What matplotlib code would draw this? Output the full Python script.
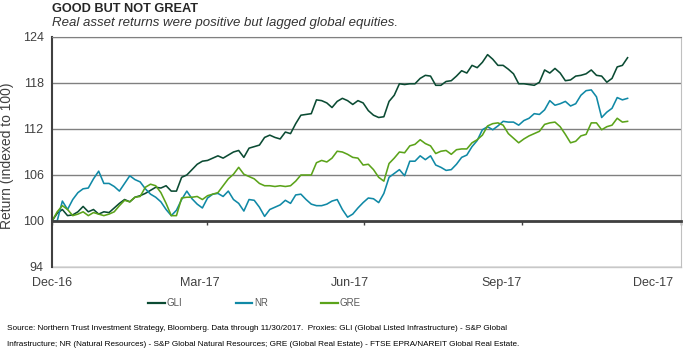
"""
Real asset returns vs global equities, indexed to 100 (Dec-16 to Nov-17).
"""

import matplotlib
matplotlib.use('Agg')
import matplotlib.pyplot as plt
import matplotlib.dates as mdates
from matplotlib import font_manager
from matplotlib.lines import Line2D
import pandas as pd


# ---- data (one point every ~3 days) ----
dates = pd.date_range('2016-12-31', '2017-11-30', periods=112)

gli = [
    100.0, 101.0, 101.5, 100.7, 100.8, 101.2, 101.9, 101.2, 101.5, 100.9,
    101.2, 101.1, 101.7, 102.3, 102.8, 102.5, 103.1, 103.3, 103.6, 104.0,
    104.4, 104.3, 104.6, 103.9, 103.9, 105.7, 106.0, 106.7, 107.4, 107.8,
    107.9, 108.2, 108.5, 108.2, 108.6, 109.0, 109.2, 108.3, 109.5, 109.7,
    109.9, 110.9, 111.2, 110.9, 110.7, 111.6, 111.4, 112.7, 113.8, 113.9,
    114.0, 115.8, 115.7, 115.4, 114.8, 115.6, 116.0, 115.7, 115.2, 115.7,
    115.4, 114.4, 113.8, 113.5, 113.6, 115.6, 116.4, 117.9, 117.8, 117.9,
    117.9, 118.6, 119.0, 118.9, 117.7, 117.7, 118.2, 118.3, 118.9, 119.6,
    119.3, 120.3, 120.0, 120.7, 121.7, 121.1, 120.3, 120.3, 119.8, 119.2,
    117.9, 117.9, 117.8, 117.7, 118.1, 119.7, 119.3, 119.9, 119.3, 118.3,
    118.4, 118.9, 119.0, 119.2, 119.7, 119.0, 118.9, 118.1, 118.6, 120.1,
    120.3, 121.3,
]

nr = [
    100.0, 100.0, 102.6, 101.5, 102.8, 103.7, 104.2, 104.3, 105.5, 106.5,
    104.9, 104.9, 104.5, 103.9, 104.9, 105.9, 105.4, 105.1, 104.2, 103.5,
    103.1, 102.5, 101.5, 100.7, 101.4, 102.8, 103.9, 102.9, 102.2, 101.7,
    103.0, 103.5, 103.6, 103.2, 103.9, 102.8, 102.3, 101.3, 102.8, 102.7,
    101.8, 100.6, 101.5, 101.8, 102.1, 102.7, 102.3, 103.4, 103.5, 102.8,
    102.2, 102.0, 102.0, 102.2, 102.6, 102.8, 101.5, 100.5, 100.9, 101.7,
    102.4, 103.0, 102.9, 102.4, 103.6, 105.7, 106.2, 106.7, 105.9, 107.8,
    107.8, 108.5, 108.0, 108.5, 107.3, 107.0, 106.6, 106.7, 107.4, 108.3,
    108.6, 109.7, 110.5, 111.9, 112.3, 111.9, 112.4, 113.0, 112.9, 112.9,
    112.5, 113.1, 113.4, 114.0, 113.9, 114.5, 115.7, 115.1, 115.3, 115.6,
    115.0, 115.3, 116.4, 117.0, 117.1, 116.2, 113.5, 114.2, 114.7, 116.1,
    115.8, 116.0,
]

gre = [
    100.0, 101.2, 102.0, 101.5, 100.7, 100.9, 101.2, 100.7, 101.1, 100.9,
    100.7, 100.9, 101.2, 102.0, 102.7, 102.5, 103.1, 103.2, 104.4, 104.8,
    104.6, 103.7, 102.3, 100.7, 100.7, 103.0, 103.1, 103.1, 103.2, 102.8,
    103.3, 103.5, 103.7, 104.6, 105.5, 106.1, 107.0, 106.1, 105.8, 105.5,
    104.9, 104.6, 104.6, 104.5, 104.6, 104.5, 104.6, 105.2, 106.0, 106.0,
    106.0, 107.6, 107.9, 107.7, 108.2, 109.1, 109.0, 108.7, 108.3, 108.2,
    107.3, 107.4, 106.7, 105.7, 105.2, 107.5, 108.2, 109.0, 108.9, 109.8,
    110.0, 110.6, 110.1, 109.8, 108.8, 109.1, 109.2, 108.7, 109.3, 109.4,
    109.4, 110.2, 110.6, 111.2, 112.4, 112.7, 112.8, 112.5, 111.4, 110.8,
    110.2, 110.7, 111.1, 111.4, 111.7, 112.6, 112.8, 112.9, 112.3, 111.3,
    110.2, 110.4, 111.1, 111.3, 112.8, 112.8, 111.9, 112.3, 112.5, 113.4,
    112.9, 113.0,
]

series_names = ['GLI', 'NR', 'GRE']
series_colors = ['#0b4b33', '#1089a6', '#5ba31a']

quarter_ticks = pd.to_datetime(['2016-12-31', '2017-03-31', '2017-06-30',
                                '2017-09-30', '2017-12-31'])
quarter_labels = ['Dec-16', 'Mar-17', 'Jun-17', 'Sep-17', 'Dec-17']
y_ticks = [94, 100, 106, 112, 118, 124]

title = 'GOOD BUT NOT GREAT'
subtitle = 'Real asset returns were positive but lagged global equities.'
y_label = 'Return (indexed to 100)'
source_lines = [
    'Source: Northern Trust Investment Strategy, Bloomberg. Data through 11/30/2017.  '
    'Proxies: GLI (Global Listed Infrastructure) - S&P Global',
    'Infrastructure; NR (Natural Resources) - S&P Global Natural Resources; '
    'GRE (Global Real Estate) - FTSE EPRA/NAREIT Global Real Estate.',
]


def pick_font(*names):
    """Return the first installed family of names, or None."""
    for name in names:
        try:
            font_manager.findfont(font_manager.FontProperties(family=name),
                                  fallback_to_default=False)
            return name
        except ValueError:
            continue
    return None


regular = pick_font('Liberation Sans', 'Arial') or 'DejaVu Sans'

W, H = 700, 355
fig = plt.figure(figsize=(W / 100, H / 100), dpi=100)
ax = fig.add_axes([52 / W, 1 - 267 / H, 629 / W, 230 / H])

for values, name, color in zip([gli, nr, gre], series_names, series_colors):
    ax.plot(dates, values, color=color, lw=1.15, label=name)

ax.set_xlim(quarter_ticks[0], quarter_ticks[-1])
ax.set_ylim(y_ticks[0], y_ticks[-1])

# y axis + gridlines
ax.set_yticks(y_ticks)
ax.set_yticklabels([str(v) for v in y_ticks])
ax.yaxis.grid(True, color='#808080', lw=1)
ax.set_axisbelow(True)
ax.tick_params(axis='y', length=0, pad=6, labelsize=9, labelcolor='#404040')
for lbl in ax.get_yticklabels():
    lbl.set_family(regular)

# x axis line sits on 100, with quarter tick marks
ax.spines['bottom'].set_position(('data', 100))
ax.spines['bottom'].set_color('#404040')
ax.spines['bottom'].set_linewidth(2)
ax.spines['left'].set_color('#404040')
ax.spines['left'].set_linewidth(1.5)
ax.spines['top'].set_color('#808080')
ax.spines['right'].set_color('#c0c0c0')
ax.set_xticks(quarter_ticks)
ax.tick_params(axis='x', labelbottom=False, length=3, width=1, color='#404040',
               direction='out')

# labels along the bottom edge (slightly compressed against the ticks, as in the source)
t0 = mdates.date2num(quarter_ticks[0])
label_pos = [t0 + (mdates.date2num(d) - t0) * 0.955 for d in quarter_ticks]
sec = ax.secondary_xaxis('bottom')
sec.set_xticks(label_pos)
sec.set_xticklabels(quarter_labels)
sec.spines['bottom'].set_color('#c8c8c8')
sec.spines['bottom'].set_linewidth(1)
sec.tick_params(axis='x', length=0, pad=7, labelsize=9, labelcolor='#404040')
for lbl in sec.get_xticklabels():
    lbl.set_family(regular)

fig.text(7.5 / W, 1 - 156 / H, y_label, rotation=90, ha='center', va='center',
         fontsize=10, family=regular, color='#404040')

# titles
fig.text(52 / W, 1 - 2.5 / H, title, ha='left', va='top', fontsize=9.2,
         fontweight='bold', family=regular, color='#262626')
fig.text(52 / W, 1 - 17 / H, subtitle, ha='left', va='top', fontsize=9.5,
         style='italic', family=regular, color='#333333')

# legend
handles = [Line2D([], [], color=c, lw=1.6) for c in series_colors]
leg = fig.legend(handles, series_names, loc='upper left',
                 bbox_to_anchor=(148 / W, 1 - 298 / H), ncol=3, frameon=False,
                 borderpad=0, borderaxespad=0, handlelength=1.7,
                 handletextpad=0.2, columnspacing=5.5,
                 prop={'family': regular, 'size': 7})
for txt in leg.get_texts():
    txt.set_color('#595959')

# source note
fig.text(7 / W, 1 - 329 / H, source_lines[0], ha='left', va='center',
         fontsize=5.85, family=regular, color='#000000')
fig.text(7 / W, 1 - 345 / H, source_lines[1], ha='left', va='center',
         fontsize=5.85, family=regular, color='#000000')

fig.savefig('out.png', dpi=100)
